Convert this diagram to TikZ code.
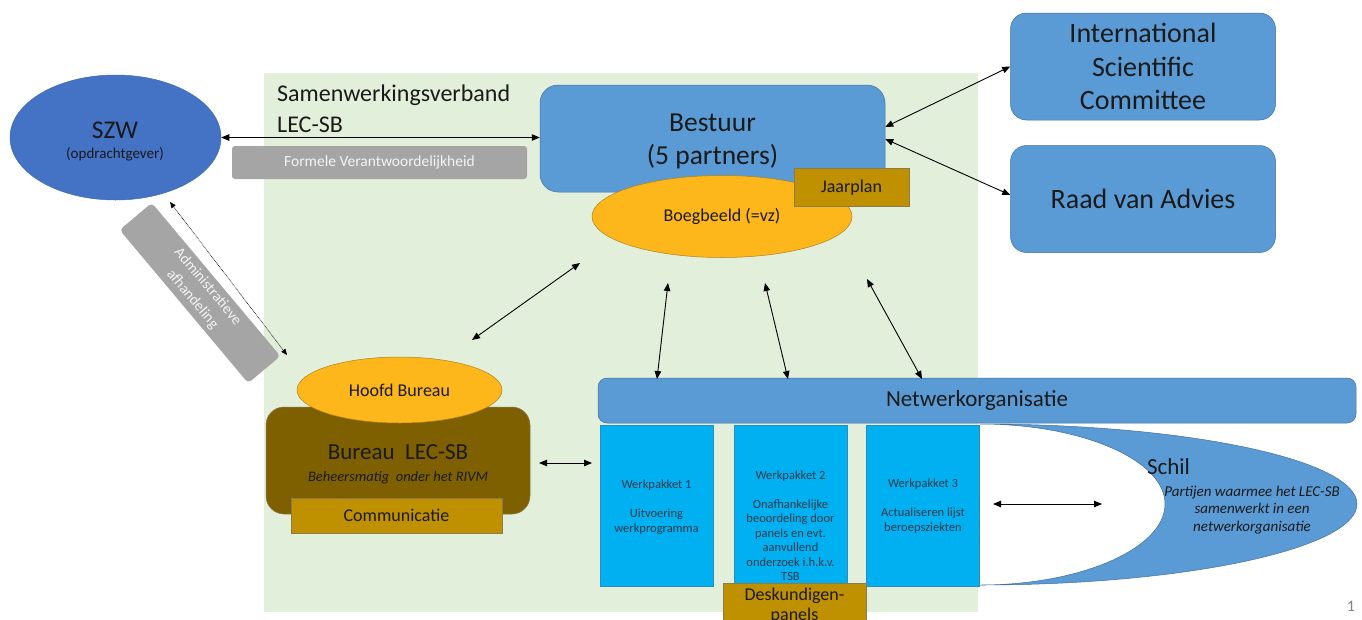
\documentclass[tikz,border=0pt]{standalone}
\usepackage{fontspec}
\setmainfont{Carlito}
\usetikzlibrary{shapes.geometric,arrows.meta}
\definecolor{bggreen}{HTML}{E2EFDA}
\definecolor{szwblue}{HTML}{4472C4}
\definecolor{midblue}{HTML}{5B9BD5}
\definecolor{edgeblue}{HTML}{41719C}
\definecolor{orng}{HTML}{FDB71B}
\definecolor{orngedge}{HTML}{B08020}
\definecolor{gold}{HTML}{BF9000}
\definecolor{goldedge}{HTML}{8A7A50}
\definecolor{brownbox}{HTML}{7F6000}
\definecolor{cyanbox}{HTML}{00B0F0}
\definecolor{cyanedge}{HTML}{2A8CC0}
\definecolor{greybox}{HTML}{A5A5A5}
\definecolor{txt}{HTML}{1A1A1A}
\definecolor{wptxt}{HTML}{2B3A4A}
\definecolor{lighttxt}{HTML}{F4F4F4}
\newcommand\fsz[2]{\fontsize{#1}{#2}\selectfont}
\begin{document}
\begin{tikzpicture}[x=1pt,y=-1pt,
  arr/.style={{Triangle[length=8pt,width=6.5pt]}-{Triangle[length=8pt,width=6.5pt]}, line width=0.9pt, black},
  dotarr/.style={{Triangle[length=6pt,width=5pt]}-{Triangle[length=6pt,width=5pt]}, line width=0.6pt, dash pattern=on 0.8pt off 0.8pt, black},
  bluebox/.style={fill=midblue, draw=edgeblue, line width=0.5pt, inner sep=0, text=txt},
  goldbox/.style={fill=gold, draw=goldedge, line width=0.5pt, inner sep=0, text=txt},
  orngell/.style={ellipse, fill=orng, draw=orngedge, line width=0.5pt, inner sep=0, text=txt},
  wpbox/.style={fill=cyanbox, draw=cyanedge, line width=0.5pt, inner sep=0, minimum width=113, minimum height=161},
  wptext/.style={align=center, font=\fsz{12.5}{14.5}, text=wptxt, inner sep=0},
  greyband/.style={fill=greybox, inner sep=0, text=lighttxt}
]
\clip (0,0) rectangle (1362,619);
\fill[white] (0,0) rectangle (1362,619);

% background of the Samenwerkingsverband
\node[fill=bggreen, minimum width=714, minimum height=539, inner sep=0, anchor=north west] (verband) at (264,73) {};
\node[anchor=base west, inner sep=0, font=\fsz{24}{28}, text=txt] (sam1) at (277,101) {Samenwerkingsverband};
\node[anchor=base west, inner sep=0, font=\fsz{24}{28}, text=txt] (sam2) at (277,132) {LEC-SB};

% SZW
\node[ellipse, fill=szwblue, draw=edgeblue, line width=0.5pt, minimum width=211, minimum height=125, inner sep=0] (szw) at (115.5,137.5) {};
\node[font=\fsz{25.5}{28}, text=txt, inner sep=0] (szwt) at (115,130.5) {SZW};
\node[font=\fsz{15}{17}, text=txt, inner sep=0] (szws) at (115,154) {(opdrachtgever)};

% grey bands
\node[greyband, rounded corners=3, minimum width=295, minimum height=33, font=\fsz{15.5}{18}] (formele) at (379.5,162.5) {Formele Verantwoordelijkheid};
\node[greyband, rotate=-50, rounded corners=4, minimum width=200, minimum height=42, align=center, font=\fsz{15}{20}] (admin) at (200,293) {Administratieve\\afhandeling};

% Bestuur
\node[bluebox, rounded corners=18, minimum width=345, minimum height=107] (bestuur) at (712.5,138.5) {};
\node[align=center, font=\fsz{27.5}{33}, text=txt, inner sep=0] (bestuurt) at (712.5,141) {Bestuur\\(5 partners)};
\node[orngell, minimum width=260, minimum height=82, font=\fsz{18}{20}] (boeg) at (722,216.5) {Boegbeeld (=vz)};
\node[goldbox, minimum width=115, minimum height=38, font=\fsz{18}{20}] (jaar) at (851.5,187.5) {Jaarplan};

% external boxes
\node[bluebox, rounded corners=16, minimum width=265, minimum height=107, align=center, font=\fsz{28}{33.5}] (isc) at (1143,66.5) {International\\Scientific\\Committee};
\node[bluebox, rounded corners=16, minimum width=265, minimum height=107, font=\fsz{28}{33.5}] (raad) at (1143,199) {Raad van Advies};

% Bureau
\node[fill=brownbox, draw=goldedge, line width=0.5pt, rounded corners=18, minimum width=264, minimum height=107, inner sep=0] (bureau) at (398,460.5) {};
\node[orngell, minimum width=205, minimum height=66, font=\fsz{18}{20}] (hoofd) at (399.5,390) {Hoofd Bureau};
\node[font=\fsz{23}{26}, text=txt, inner sep=0] (bureaut) at (398,452) {Bureau\ \ LEC-SB};
\node[font=\itshape\fsz{14.5}{17}, text=txt, inner sep=0] (bureaus) at (398,478) {Beheersmatig\ \ onder het RIVM};
\node[goldbox, minimum width=211, minimum height=35, font=\fsz{18}{20}] (comm) at (396.5,515.5) {Communicatie};

% Schil
\path[fill=midblue, draw=edgeblue, line width=0.5pt]
  (980,424) .. controls (1188,424) and (1357,460) .. (1357,504)
  .. controls (1357,548) and (1188,585) .. (980,585)
  .. controls (1082,585) and (1165,548) .. (1165,504)
  .. controls (1165,460) and (1082,424) .. (980,424) -- cycle;
\node[font=\fsz{23}{26}, text=txt, inner sep=0] (schil) at (1168.5,467) {Schil};
\node[align=center, font=\itshape\fsz{15}{17.5}, text=txt, inner sep=0] (schiltxt) at (1252,510) {Partijen waarmee\ het LEC-SB\\samenwerkt\ in een\\netwerkorganisatie};

% Netwerkorganisatie
\node[bluebox, rounded corners=9, minimum width=758, minimum height=45, font=\fsz{23}{26}] (netw) at (977,400.5) {Netwerkorganisatie};

% work packages
\node[wpbox] (wp1) at (656.5,505.5) {};
\node[wpbox] (wp2) at (790.5,505.5) {};
\node[wpbox] (wp3) at (923,505.5) {};
\node[wptext] (wp1t) at (656.5,507) {Werkpakket 1\\[14.5pt]Uitvoering\\werkprogramma};
\node[wptext] (wp2t) at (790.5,525.5) {Werkpakket 2\\[14.5pt]Onafhankelijke\\beoordeling door\\panels en evt.\\aanvullend\\onderzoek i.h.k.v.\\TSB};
\node[wptext] (wp3t) at (923,506) {Werkpakket 3\\[14.5pt]Actualiseren lijst\\beroepsziekten};
\node[goldbox, minimum width=143, minimum height=60, anchor=north] (desk) at (794.5,583) {};
\node[align=center, font=\fsz{18}{20}, text=txt, inner sep=0, anchor=base] (deskt) at (794.5,620) {Deskundigen-\\panels};

% page number
\node[font=\fsz{16}{18}, text=gray, inner sep=0] (pagenum) at (1351,606) {1};

% connectors
\draw[arr] (szw.east) -- (szw.east -| bestuur.west);
\draw[arr] ([yshift=11.5pt]bestuur.east) -- (isc.west);
\draw[arr] ([yshift=-0.5pt]bestuur.east) -- ([yshift=4pt]raad.west);

\coordinate (dA) at (170,202);
\coordinate (dB) at (287,355);
\draw[dotarr] (dA) -- (dB);

\coordinate (bA) at (580,263);
\coordinate (bB) at (472,340);
\draw[arr] (bA) -- (bB);

\coordinate (n1a) at (668,283);
\coordinate (n1b) at (657,379);
\coordinate (n2a) at (765,283);
\coordinate (n2b) at (788,379);
\coordinate (n3a) at (867,279);
\coordinate (n3b) at (922,379);
\draw[arr] (n1a) -- (n1b);
\draw[arr] (n2a) -- (n2b);
\draw[arr] (n3a) -- (n3b);

\coordinate (bw1) at (539,463);
\coordinate (bw2) at (592,463);
\draw[arr] (bw1) -- (bw2);

\coordinate (sc1) at (993,504);
\coordinate (sc2) at (1102,504);
\draw[arr] (sc1) -- (sc2);
\end{tikzpicture}
\end{document}
